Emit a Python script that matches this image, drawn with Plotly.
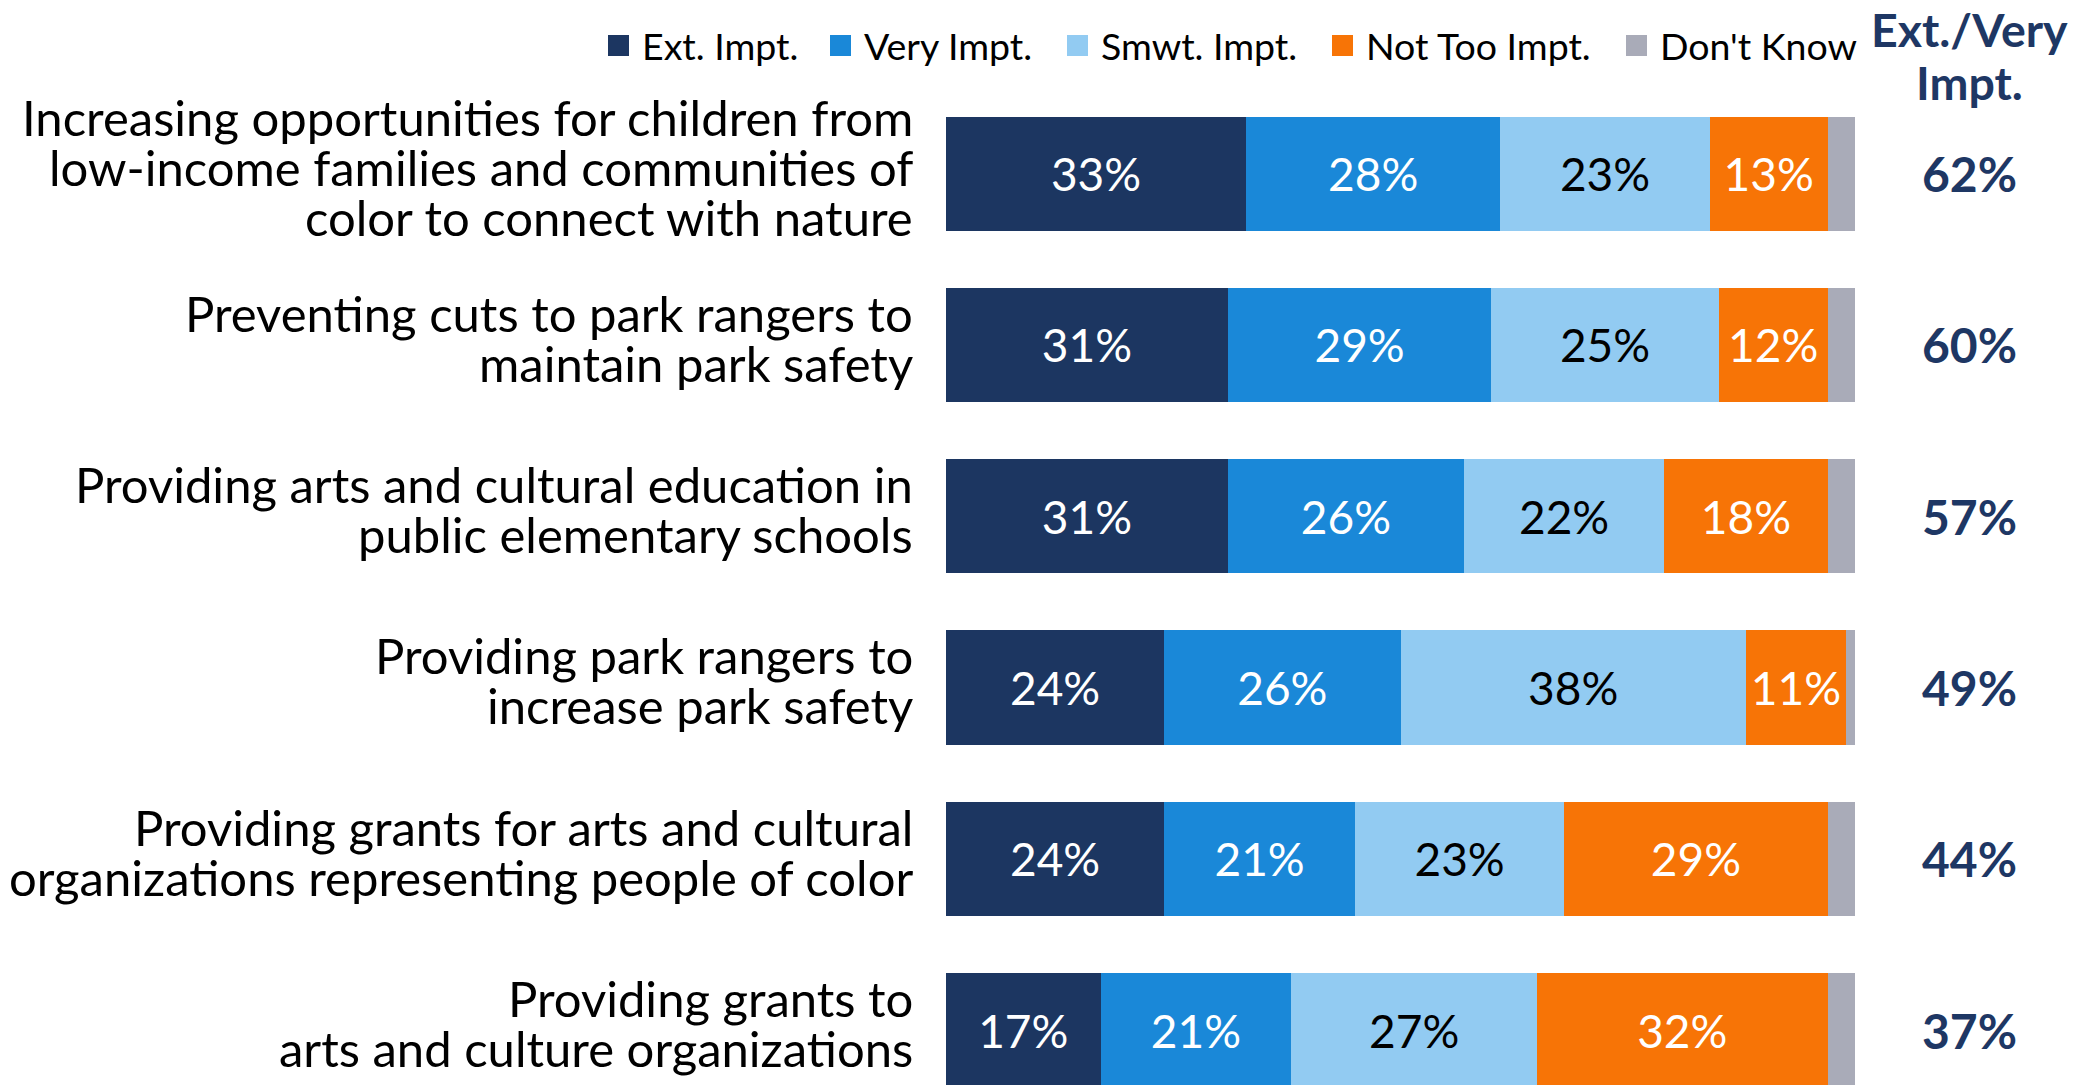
import plotly.graph_objects as go

categories = [
    "Increasing opportunities for children from<br>low-income families and communities of<br>color to connect with nature",
    "Preventing cuts to park rangers to<br>maintain park safety",
    "Providing arts and cultural education in<br>public elementary schools",
    "Providing park rangers to<br>increase park safety",
    "Providing grants for arts and cultural<br>organizations representing people of color",
    "Providing grants to<br>arts and culture organizations",
]
ext_impt = [33, 31, 31, 24, 24, 17]
very_impt = [28, 29, 26, 26, 21, 21]
smwt_impt = [23, 25, 22, 38, 23, 27]
not_too_impt = [13, 12, 18, 11, 29, 32]
dont_know = [3, 3, 3, 1, 3, 3]
ext_very_total = [62, 60, 57, 49, 44, 37]
header_lines = ["Ext./Very", "Impt."]

series_names = ["Ext. Impt.", "Very Impt.", "Smwt. Impt.", "Not Too Impt.", "Don't Know"]
series_values = [ext_impt, very_impt, smwt_impt, not_too_impt, dont_know]
colors = ["#1C3661", "#1A88D8", "#92CBF2", "#F77406", "#A9ABB8"]
text_colors = ["white", "white", "black", "white", "white"]
show_text = [True, True, True, True, False]

FONT = "Lato"
NAVY = "#1E3764"
W, H = 2070, 1077
L, R, T = 938, 223, 80
plot_w = W - L - R
plot_h = H - T
LINE_PITCH = 50
# left edges (figure px) of each legend entry
legend_origins = [587, 809, 1046, 1311, 1605]

fig = go.Figure()
idx = list(range(len(categories)))
for k, (name, vals, col, tc, st) in enumerate(zip(series_names, series_values, colors, text_colors, show_text)):
    fig.add_trace(go.Bar(
        y=idx, x=vals, orientation="h", name=name,
        marker=dict(color=col, line=dict(width=0)),
        text=[f"{v}%" for v in vals] if st else None,
        textposition="inside" if st else "none",
        insidetextanchor="middle",
        textfont=dict(family=FONT, size=46, color=tc),
        constraintext="none",
        showlegend=False,
        hoverinfo="skip",
    ))
    lg = "legend" if k == 0 else f"legend{k + 1}"
    fig.add_trace(go.Scatter(
        x=[None], y=[None], mode="markers", name=name,
        marker=dict(symbol="square", size=16, color=col, line=dict(width=5, color=col)),
        showlegend=True, legend=lg,
    ))

for i, (cat, tot) in enumerate(zip(categories, ext_very_total)):
    lines = cat.split("<br>")
    mid = (len(lines) - 1) / 2
    for j, line in enumerate(lines):
        fig.add_annotation(
            x=-0.0341, xref="paper", y=i, yref="y", text=line, showarrow=False,
            xanchor="right", yanchor="middle", align="right",
            yshift=7 + (mid - j) * LINE_PITCH,
            font=dict(family=FONT, size=49, color="black"),
        )
    fig.add_annotation(
        x=1.1265, xref="paper", y=i, yref="y", text=f"<b>{tot}%</b>", showarrow=False,
        xanchor="center", yanchor="middle",
        font=dict(family=FONT, size=48, color=NAVY),
    )

for yshift, line in zip([59, 6], header_lines):
    fig.add_annotation(
        x=1.1255, xref="paper", y=1, yref="paper", yshift=yshift,
        text=f"<b>{line}</b>", showarrow=False,
        xanchor="center", yanchor="middle", align="center",
        font=dict(family=FONT, size=46.5, color=NAVY),
    )

legend_common = dict(
    orientation="h", xanchor="left",
    y=1 + (T - 37.5) / plot_h, yanchor="middle",
    font=dict(family=FONT, size=37.5, color="black"),
    itemsizing="trace", itemwidth=37, bgcolor="rgba(0,0,0,0)",
)
legend_layout = {}
for k, ox in enumerate(legend_origins):
    key = "legend" if k == 0 else f"legend{k + 1}"
    legend_layout[key] = dict(legend_common, x=(ox - L) / plot_w)

fig.update_layout(
    width=W, height=H,
    margin=dict(l=L, r=R, t=T, b=0, pad=0),
    barmode="stack", bargap=0.334,
    plot_bgcolor="white", paper_bgcolor="white",
    font=dict(family=FONT),
    xaxis=dict(range=[0, 100], visible=False, fixedrange=True),
    yaxis=dict(range=[5.321, -0.5], visible=False, fixedrange=True),
    **legend_layout,
)

fig.write_html("out.html")
